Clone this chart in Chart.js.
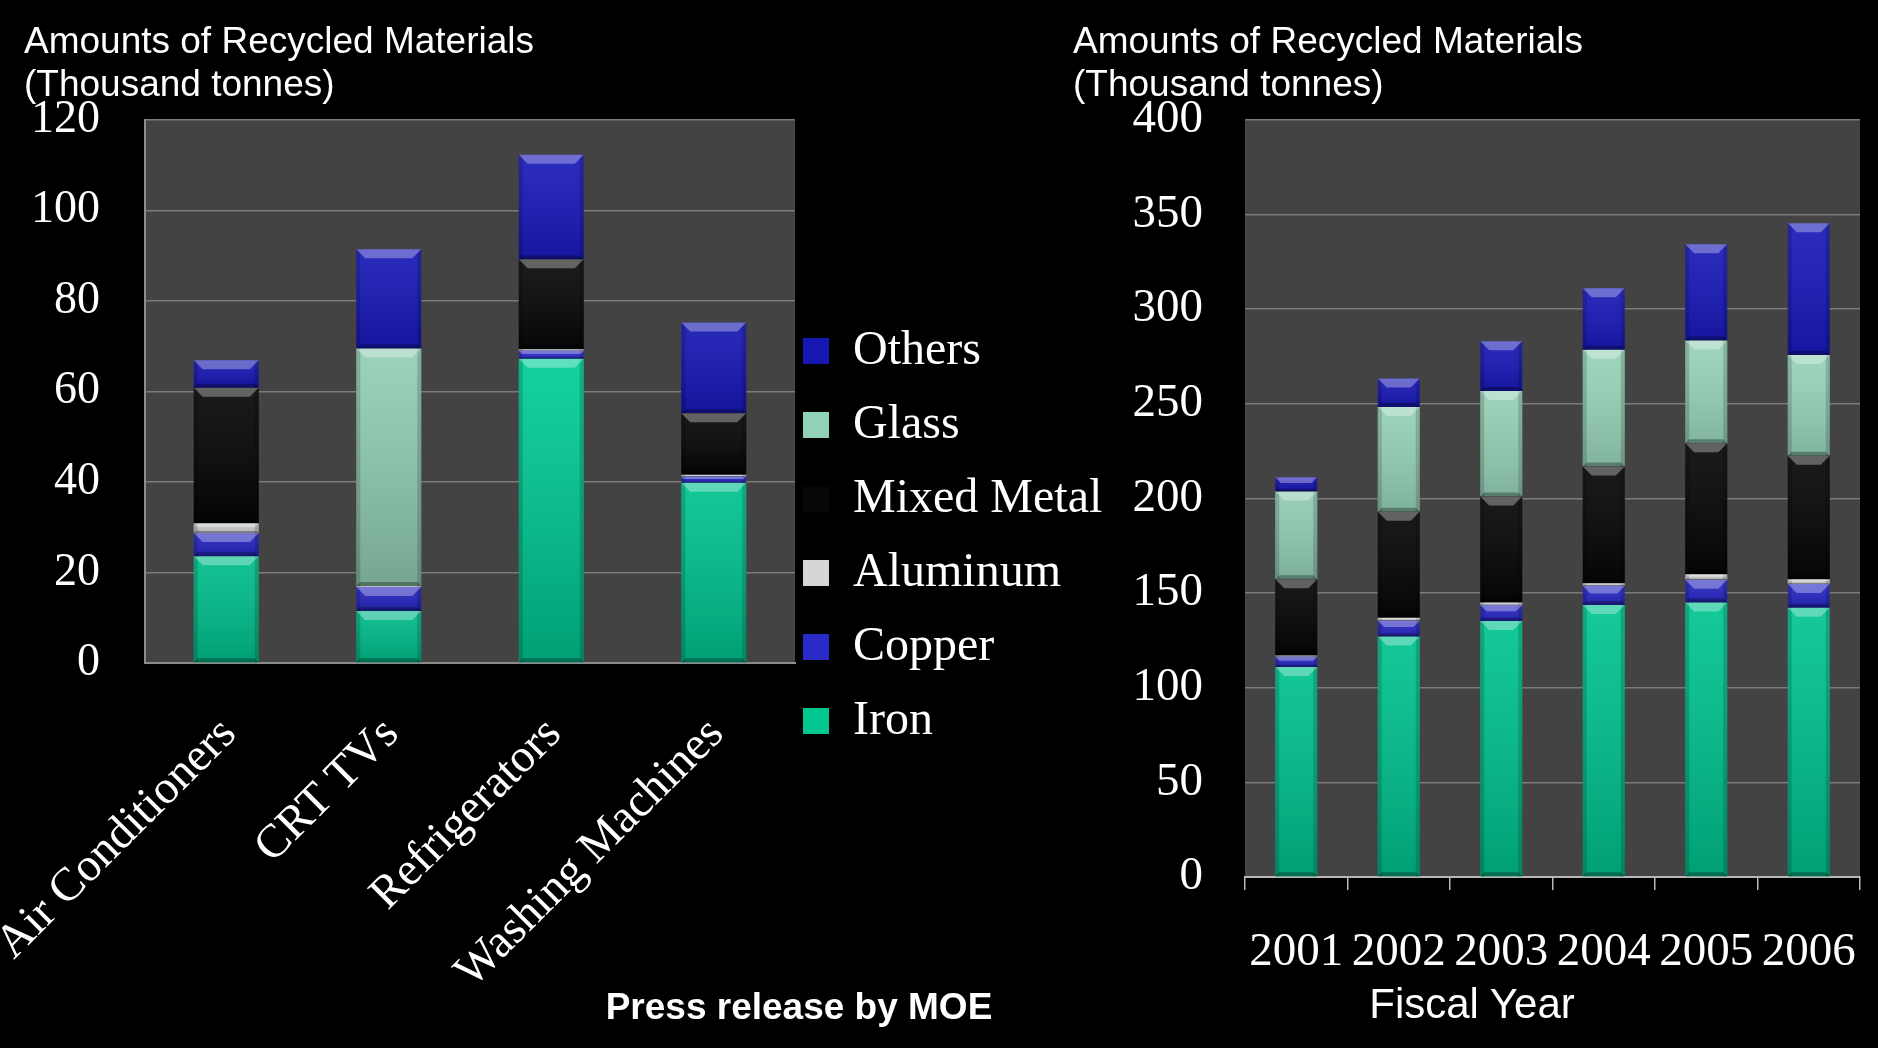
<!DOCTYPE html>
<html>
<head>
<meta charset="utf-8">
<script src="https://cdn.jsdelivr.net/npm/chart.js@4.4.1/dist/chart.umd.min.js"></script>
<style>
  html, body { margin: 0; padding: 0; background: #000; width: 1878px; height: 1048px; overflow: hidden; }
  #c1 { position: absolute; left: 0; top: 0; }
  #c2 { position: absolute; left: 1073px; top: 0; }
  .note { position: absolute; color: #fff; font-family: "Liberation Sans", Arial, sans-serif; white-space: nowrap; transform: translate(-50%, -50%); line-height: 1; }
  #press { left: 799px; top: 1006px; font-size: 37px; font-weight: bold; }
  #fy { left: 1472px; top: 1004px; font-size: 42px; }
</style>
</head>
<body>
<canvas id="c1" width="1140" height="1072"></canvas>
<canvas id="c2" width="805" height="1048"></canvas>
<div class="note" id="press">Press release by MOE</div>
<div class="note" id="fy">Fiscal Year</div>
<script>
// ---------- data ----------
const seriesNames = ['Iron', 'Copper', 'Aluminum', 'Mixed Metal', 'Glass', 'Others'];

// Left chart: by appliance type (thousand tonnes)
const applianceLabels = ['Air Conditioners', 'CRT TVs', 'Refrigerators', 'Washing Machines'];
const applianceIron     = [23.6, 11.5, 67.2, 39.8];
const applianceCopper   = [5.1, 5.3, 1.8, 1.4];
const applianceAluminum = [2.2, 0.2, 0.3, 0.4];
const applianceMixed    = [29.9, 0, 19.9, 13.6];
const applianceGlass    = [0, 52.5, 0, 0];
const applianceOthers   = [6.1, 21.9, 23.1, 20.0];
const leftTicks = [0, 20, 40, 60, 80, 100, 120];

// Right chart: by fiscal year (thousand tonnes)
const yearLabels = ['2001', '2002', '2003', '2004', '2005', '2006'];
const yearIron     = [111.0, 127.0, 135.3, 143.7, 145.0, 142.3];
const yearCopper   = [5.4, 8.4, 8.4, 10.1, 12.0, 12.5];
const yearAluminum = [0.6, 1.6, 1.3, 1.4, 3.0, 2.5];
const yearMixed    = [40.3, 56.0, 56.0, 61.6, 69.2, 65.2];
const yearGlass    = [46.3, 55.3, 55.8, 61.7, 54.2, 53.3];
const yearOthers   = [7.6, 15.0, 26.2, 32.5, 50.9, 69.6];
const rightTicks = [0, 50, 100, 150, 200, 250, 300, 350, 400];

// ---------- styles ----------
const flatColors = ['#00c890', '#2a2ac8', '#d6d6d6', '#060606', '#90d2b5', '#1616b2'];
const gradTop    = ['#00e0a6', '#3030d4', '#e8e8e8', '#0a0a0a', '#a2dec3', '#1a1aba'];
const gradBottom = ['#00b584', '#2222b8', '#c0c0c0', '#020202', '#80b8a0', '#1212a8'];

function vgrad(i) {
  return (ctx) => {
    const ca = ctx.chart.chartArea;
    if (!ca) return flatColors[i];
    const g = ctx.chart.ctx.createLinearGradient(0, ca.top, 0, ca.bottom);
    g.addColorStop(0, gradTop[i]);
    g.addColorStop(1, gradBottom[i]);
    return g;
  };
}

const plotBg = {
  id: 'plotBg',
  beforeDraw(chart) {
    const a = chart.chartArea, c = chart.ctx;
    c.save();
    c.fillStyle = '#434343';
    c.fillRect(a.left, a.top, a.right - a.left, a.bottom - a.top);
    c.restore();
  }
};

const bevel = {
  id: 'bevel',
  afterDatasetsDraw(chart) {
    const c = chart.ctx;
    c.save();
    chart.data.datasets.forEach((ds, di) => {
      const meta = chart.getDatasetMeta(di);
      meta.data.forEach(el => {
        const p = el.getProps(['x', 'y', 'base', 'width'], true);
        const top = Math.min(p.y, p.base), bot = Math.max(p.y, p.base);
        const h = bot - top;
        if (h < 0.6) return;
        const l = p.x - p.width / 2, r = p.x + p.width / 2;
        const g = c.createLinearGradient(0, top, 0, bot);
        g.addColorStop(0, 'rgba(255,255,255,0.08)');
        g.addColorStop(1, 'rgba(0,0,0,0.12)');
        c.fillStyle = g;
        c.fillRect(l, top, p.width, h);
        const e = Math.min(4, p.width / 10);
        c.fillStyle = 'rgba(0,0,0,0.16)';
        c.fillRect(l, top, e, h);
        c.fillRect(r - e, top, e, h);
        const cap = Math.min(9, h * 0.4);
        c.beginPath();
        c.moveTo(l, top); c.lineTo(r, top);
        c.lineTo(r - cap, top + cap); c.lineTo(l + cap, top + cap);
        c.closePath();
        c.fillStyle = 'rgba(255,255,255,0.32)';
        c.fill();
        const bc = Math.min(4, h * 0.2);
        c.beginPath();
        c.moveTo(l, bot); c.lineTo(r, bot);
        c.lineTo(r - bc, bot - bc); c.lineTo(l + bc, bot - bc);
        c.closePath();
        c.fillStyle = 'rgba(0,0,0,0.30)';
        c.fill();
      });
    });
    c.restore();
  }
};

const legendShift = {
  id: 'legendShift',
  afterLayout(chart) {
    const lg = chart.legend;
    if (lg && chart.options.plugins.legend.display) {
      lg.left -= 18;
      lg.right = chart.width;
      lg.width = lg.right - lg.left;
    }
  }
};

Chart.defaults.font.family = '"Liberation Serif", "Times New Roman", serif';
Chart.defaults.color = '#ffffff';

function makeDatasets(arrs, barPct) {
  return arrs.map((data, i) => ({
    label: seriesNames[i],
    data: data,
    backgroundColor: vgrad(i),
    borderWidth: 0,
    barPercentage: barPct,
    categoryPercentage: 1.0
  }));
}

const titleOpts = {
  display: true,
  text: ['Amounts of Recycled Materials', '(Thousand tonnes)'],
  align: 'start',
  color: '#ffffff',
  font: { family: '"Liberation Sans", Arial, sans-serif', size: 37, weight: 'normal', lineHeight: 1.16 },
  padding: { top: 21, bottom: 13 }
};

// ---------- left chart ----------
new Chart(document.getElementById('c1'), {
  type: 'bar',
  data: {
    labels: applianceLabels,
    datasets: makeDatasets([applianceIron, applianceCopper, applianceAluminum, applianceMixed, applianceGlass, applianceOthers], 0.4)
  },
  options: {
    responsive: false,
    animation: false,
    layout: { padding: { left: 24, right: 88, top: 0, bottom: 0 } },
    plugins: {
      title: titleOpts,
      tooltip: { enabled: false },
      legend: {
        display: true,
        position: 'right',
        align: 'center',
        reverse: true,
        labels: {
          boxWidth: 26,
          boxHeight: 26,
          padding: 26,
          color: '#ffffff',
          font: { size: 48, family: '"Liberation Serif", "Times New Roman", serif' },
          generateLabels(chart) {
            const items = Chart.defaults.plugins.legend.labels.generateLabels(chart);
            items.forEach(it => {
              it.fillStyle = flatColors[it.datasetIndex];
              it.strokeStyle = 'rgba(0,0,0,0)';
              it.lineWidth = 0;
            });
            return items;
          }
        }
      }
    },
    scales: {
      x: {
        stacked: true,
        grid: { display: false, drawTicks: false },
        border: { display: true, color: '#8c8c8c', width: 2 },
        ticks: {
          minRotation: 45, maxRotation: 45, autoSkip: false,
          padding: 44, labelOffset: 3,
          color: '#ffffff',
          font: { size: 47 }
        },
        afterFit(s) { s.height = 409; s.paddingLeft = 0; s.paddingRight = 0; }
      },
      y: {
        stacked: true,
        min: 0, max: 120,
        afterBuildTicks(s) { s.ticks = leftTicks.map(v => ({ value: v })); },
        grid: { color: '#7b7b7b', lineWidth: 1.5, drawTicks: false },
        border: { display: true, color: '#8c8c8c', width: 2 },
        ticks: { padding: 45, color: '#ffffff', font: { size: 46 } },
        afterFit(s) { s.width = 121; s.paddingTop = 0; s.paddingBottom = 0; }
      }
    }
  },
  plugins: [plotBg, bevel, legendShift]
});

// ---------- right chart ----------
new Chart(document.getElementById('c2'), {
  type: 'bar',
  data: {
    labels: yearLabels,
    datasets: makeDatasets([yearIron, yearCopper, yearAluminum, yearMixed, yearGlass, yearOthers], 0.41)
  },
  options: {
    responsive: false,
    animation: false,
    layout: { padding: { left: 0, right: 18, top: 0, bottom: 0 } },
    plugins: {
      title: titleOpts,
      tooltip: { enabled: false },
      legend: { display: false }
    },
    scales: {
      x: {
        stacked: true,
        grid: { display: true, drawOnChartArea: false, drawTicks: true, tickLength: 13, color: '#b8b8b8', lineWidth: 1.5, offset: true },
        border: { display: true, color: '#b8b8b8', width: 2 },
        ticks: { maxRotation: 0, minRotation: 0, autoSkip: false, padding: 34, color: '#ffffff', font: { size: 47 } },
        afterFit(s) { s.height = 171; s.paddingLeft = 0; s.paddingRight = 0; }
      },
      y: {
        stacked: true,
        min: 0, max: 400,
        afterBuildTicks(s) { s.ticks = rightTicks.map(v => ({ value: v })); },
        grid: { color: '#7b7b7b', lineWidth: 1.5, drawTicks: false },
        border: { display: false },
        ticks: { padding: 42, color: '#ffffff', font: { size: 47 } },
        afterFit(s) { s.width = 172; s.paddingTop = 0; s.paddingBottom = 0; }
      }
    }
  },
  plugins: [plotBg, bevel]
});
</script>
</body>
</html>
